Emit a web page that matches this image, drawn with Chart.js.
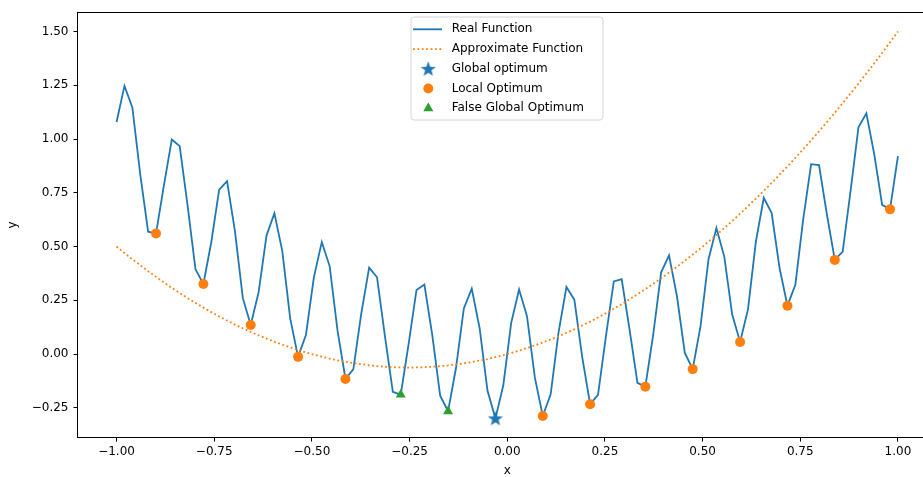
<!DOCTYPE html>
<html>
<head>
<meta charset="utf-8">
<title>Real vs approximate function</title>
<script src="https://cdn.jsdelivr.net/npm/chart.js@4.4.1/dist/chart.umd.min.js"></script>
<style>
  html, body { margin: 0; padding: 0; background: #fff; overflow: hidden; }
  #chart { display: block; }
</style>
</head>
<body>
<canvas id="chart" width="945" height="477"></canvas>
<script>
// ── Data ────────────────────────────────────────

var xVals = [
  -1.0000, -0.9798, -0.9596, -0.9394, -0.9192, -0.8990, -0.8788, -0.8586, -0.8384, -0.8182,
  -0.7980, -0.7778, -0.7576, -0.7374, -0.7172, -0.6970, -0.6768, -0.6566, -0.6364, -0.6162,
  -0.5960, -0.5758, -0.5556, -0.5354, -0.5152, -0.4949, -0.4747, -0.4545, -0.4343, -0.4141,
  -0.3939, -0.3737, -0.3535, -0.3333, -0.3131, -0.2929, -0.2727, -0.2525, -0.2323, -0.2121,
  -0.1919, -0.1717, -0.1515, -0.1313, -0.1111, -0.0909, -0.0707, -0.0505, -0.0303, -0.0101,
  0.0101, 0.0303, 0.0505, 0.0707, 0.0909, 0.1111, 0.1313, 0.1515, 0.1717, 0.1919,
  0.2121, 0.2323, 0.2525, 0.2727, 0.2929, 0.3131, 0.3333, 0.3535, 0.3737, 0.3939,
  0.4141, 0.4343, 0.4545, 0.4747, 0.4949, 0.5152, 0.5354, 0.5556, 0.5758, 0.5960,
  0.6162, 0.6364, 0.6566, 0.6768, 0.6970, 0.7172, 0.7374, 0.7576, 0.7778, 0.7980,
  0.8182, 0.8384, 0.8586, 0.8788, 0.8990, 0.9192, 0.9394, 0.9596, 0.9798, 1.0000
];

var realY = [
  1.079, 1.247, 1.147, 0.836, 0.569, 0.561, 0.785, 0.998, 0.967, 0.690,
  0.394, 0.326, 0.520, 0.765, 0.804, 0.572, 0.260, 0.135, 0.288, 0.551,
  0.655, 0.479, 0.166, -0.013, 0.090, 0.358, 0.521, 0.408, 0.108, -0.116,
  -0.070, 0.188, 0.402, 0.357, 0.083, -0.176, -0.189, 0.046, 0.298, 0.323,
  0.088, -0.194, -0.266, -0.066, 0.212, 0.304, 0.120, -0.171, -0.299, -0.145,
  0.145, 0.300, 0.176, -0.110, -0.288, -0.187, 0.101, 0.312, 0.253, -0.014,
  -0.233, -0.190, 0.082, 0.338, 0.348, 0.114, -0.134, -0.152, 0.091, 0.380,
  0.459, 0.270, 0.005, -0.070, 0.132, 0.441, 0.586, 0.452, 0.184, 0.056,
  0.208, 0.523, 0.727, 0.656, 0.400, 0.225, 0.322, 0.628, 0.883, 0.879,
  0.649, 0.438, 0.477, 0.759, 1.055, 1.120, 0.929, 0.694, 0.673, 0.921
];

var approxY = [
  0.500, 0.470, 0.441, 0.413, 0.385, 0.359, 0.333, 0.308, 0.284, 0.260,
  0.238, 0.216, 0.195, 0.175, 0.156, 0.137, 0.120, 0.103, 0.087, 0.072,
  0.057, 0.044, 0.031, 0.019, 0.008, -0.003, -0.012, -0.021, -0.029, -0.036,
  -0.042, -0.047, -0.052, -0.056, -0.059, -0.061, -0.062, -0.063, -0.062, -0.061,
  -0.059, -0.056, -0.053, -0.048, -0.043, -0.037, -0.030, -0.023, -0.014, -0.005,
  0.005, 0.016, 0.028, 0.040, 0.054, 0.068, 0.083, 0.099, 0.115, 0.133,
  0.151, 0.170, 0.190, 0.211, 0.232, 0.255, 0.278, 0.302, 0.327, 0.352,
  0.379, 0.406, 0.434, 0.463, 0.492, 0.523, 0.554, 0.586, 0.619, 0.653,
  0.688, 0.723, 0.759, 0.796, 0.834, 0.873, 0.912, 0.953, 0.994, 1.036,
  1.079, 1.122, 1.167, 1.212, 1.258, 1.305, 1.352, 1.401, 1.450, 1.500
];

var globalX = [-0.0303];
var globalY = [-0.299];

var localX = [-0.8990, -0.7778, -0.6566, -0.5354, -0.4141, 0.0909, 0.2121, 0.3535, 0.4747, 0.5960, 0.7172, 0.8384, 0.9798];
var localY = [0.561, 0.326, 0.135, -0.013, -0.116, -0.288, -0.233, -0.152, -0.070, 0.056, 0.225, 0.438, 0.673];

var falseX = [-0.2727, -0.1515];
var falseY = [-0.189, -0.266];

var xTicks = [-1, -0.75, -0.5, -0.25, 0, 0.25, 0.5, 0.75, 1];
var yTicks = [-0.25, 0, 0.25, 0.5, 0.75, 1, 1.25, 1.5];

(function () {
  "use strict";

  var BLUE = "#1f77b4", ORANGE = "#ff7f0e", GREEN = "#2ca02c";
  var FONT = "'DejaVu Sans', sans-serif";

  function pairs(xs, ys) {
    return xs.map(function (x, i) { return { x: x, y: ys[i] }; });
  }

  function fmt(v) {
    return v.toFixed(2).replace("-", "\u2212");
  }

  // ── Star marker (Chart.js "star" is an asterisk) ──

  function starPath(ctx, cx, cy, outer, inner) {
    ctx.beginPath();
    for (var k = 0; k < 10; k++) {
      var r = k % 2 === 0 ? outer : inner;
      var a = -Math.PI / 2 + k * Math.PI / 5;
      var px = cx + r * Math.cos(a), py = cy + r * Math.sin(a);
      if (k === 0) ctx.moveTo(px, py); else ctx.lineTo(px, py);
    }
    ctx.closePath();
  }

  var starImg = document.createElement("canvas");
  starImg.width = 18; starImg.height = 18;
  (function () {
    var c = starImg.getContext("2d");
    c.fillStyle = BLUE;
    starPath(c, 9, 9.6, 8, 3.3);
    c.fill();
  })();

  // ── Frame + legend plugin ───────────────────────

  var framePlugin = {
    id: "frame",
    afterDatasetsDraw: function (chart) {
      var a = chart.chartArea, ctx = chart.ctx;
      ctx.save();
      ctx.strokeStyle = "#000";
      ctx.lineWidth = 1;
      ctx.strokeRect(Math.round(a.left) - 0.5, Math.round(a.top) + 0.5, Math.round(a.right - a.left), Math.round(a.bottom - a.top));
      ctx.restore();
    }
  };

  var legendPlugin = {
    id: "mplLegend",
    afterDraw: function (chart) {
      var ctx = chart.ctx;
      var bx = 411, by = 17, bw = 192, bh = 103, r = 3;
      ctx.save();
      ctx.beginPath();
      ctx.moveTo(bx + r, by);
      ctx.arcTo(bx + bw, by, bx + bw, by + bh, r);
      ctx.arcTo(bx + bw, by + bh, bx, by + bh, r);
      ctx.arcTo(bx, by + bh, bx, by, r);
      ctx.arcTo(bx, by, bx + bw, by, r);
      ctx.closePath();
      ctx.fillStyle = "rgba(255,255,255,0.8)";
      ctx.fill();
      ctx.strokeStyle = "#d6d6d6";
      ctx.lineWidth = 1;
      ctx.stroke();

      ctx.font = "12px " + FONT;
      ctx.textBaseline = "middle";
      ctx.fillStyle = "#000";

      chart.data.datasets.forEach(function (ds, i) {
        var y = 29.3 + i * 19.75;
        var hx = 428.3;
        if (ds.showLine) {
          ctx.save();
          ctx.strokeStyle = ds.borderColor;
          ctx.lineWidth = ds.borderWidth;
          ctx.lineCap = "butt";
          ctx.setLineDash(ds.borderDash || []);
          ctx.beginPath();
          ctx.moveTo(413, y);
          ctx.lineTo(442, y);
          ctx.stroke();
          ctx.restore();
        } else if (ds.pointStyle === "circle") {
          ctx.fillStyle = ds.backgroundColor;
          ctx.beginPath();
          ctx.arc(hx, y, ds.pointRadius, 0, Math.PI * 2);
          ctx.fill();
        } else if (ds.pointStyle === "triangle") {
          var rr = ds.pointRadius;
          ctx.fillStyle = ds.backgroundColor;
          ctx.beginPath();
          ctx.moveTo(hx, y - rr);
          ctx.lineTo(hx + rr * 0.866, y + rr * 0.5);
          ctx.lineTo(hx - rr * 0.866, y + rr * 0.5);
          ctx.closePath();
          ctx.fill();
        } else {
          ctx.drawImage(starImg, hx - 9, y - 9);
        }
        ctx.fillStyle = "#000";
        ctx.fillText(ds.label, 451.7, y);
      });
      ctx.restore();
    }
  };

  // ── Chart ───────────────────────────────────────

  var tickFont = { family: FONT, size: 12 };

  new Chart(document.getElementById("chart"), {
    type: "scatter",
    data: {
      datasets: [
        { label: "Real Function", data: pairs(xVals, realY), showLine: true, borderColor: BLUE, backgroundColor: BLUE, borderWidth: 1.8, pointRadius: 0, tension: 0, order: 5 },
        { label: "Approximate Function", data: pairs(xVals, approxY), showLine: true, borderColor: ORANGE, backgroundColor: ORANGE, borderWidth: 1.8, borderDash: [1.8, 2.6], borderCapStyle: "butt", pointRadius: 0, tension: 0, order: 4 },
        { label: "Global optimum", data: pairs(globalX, globalY), pointStyle: starImg, pointRadius: 8, backgroundColor: BLUE, borderWidth: 0, order: 3 },
        { label: "Local Optimum", data: pairs(localX, localY), pointStyle: "circle", pointRadius: 5, backgroundColor: ORANGE, borderColor: ORANGE, borderWidth: 0, order: 2 },
        { label: "False Global Optimum", data: pairs(falseX, falseY), pointStyle: "triangle", pointRadius: 5.8, backgroundColor: GREEN, borderColor: GREEN, borderWidth: 0, order: 1 }
      ]
    },
    options: {
      responsive: false,
      animation: false,
      devicePixelRatio: 1,
      events: [],
      layout: { padding: { left: 0, top: 11, right: 1.5, bottom: 0 } },
      plugins: { legend: { display: false }, tooltip: { enabled: false } },
      scales: {
        x: {
          type: "linear", min: -1.1, max: 1.1,
          afterBuildTicks: function (s) { s.ticks = xTicks.map(function (v) { return { value: v }; }); },
          afterFit: function (s) { s.height = 39.4; },
          grid: { display: true, drawOnChartArea: false, drawTicks: true, tickLength: 4, tickColor: "#000", tickWidth: 1 },
          border: { display: false },
          ticks: { font: tickFont, color: "#000", padding: 3, maxRotation: 0, autoSkip: false, callback: function (v) { return fmt(v); } },
          title: { display: true, text: "x", font: tickFont, color: "#000", padding: { top: 0, bottom: -1.5 } }
        },
        y: {
          type: "linear", min: -0.3885, max: 1.5899,
          afterBuildTicks: function (s) { s.ticks = yTicks.map(function (v) { return { value: v }; }); },
          afterFit: function (s) { s.width = 77.5; },
          grid: { display: true, drawOnChartArea: false, drawTicks: true, tickLength: 4, tickColor: "#000", tickWidth: 1 },
          border: { display: false },
          ticks: { font: tickFont, color: "#000", padding: 5, autoSkip: false, callback: function (v) { return fmt(v); } },
          title: { display: true, text: "y", font: tickFont, color: "#000", padding: { top: 6, bottom: 0 } }
        }
      }
    },
    plugins: [framePlugin, legendPlugin]
  });
})();
</script>
</body>
</html>
